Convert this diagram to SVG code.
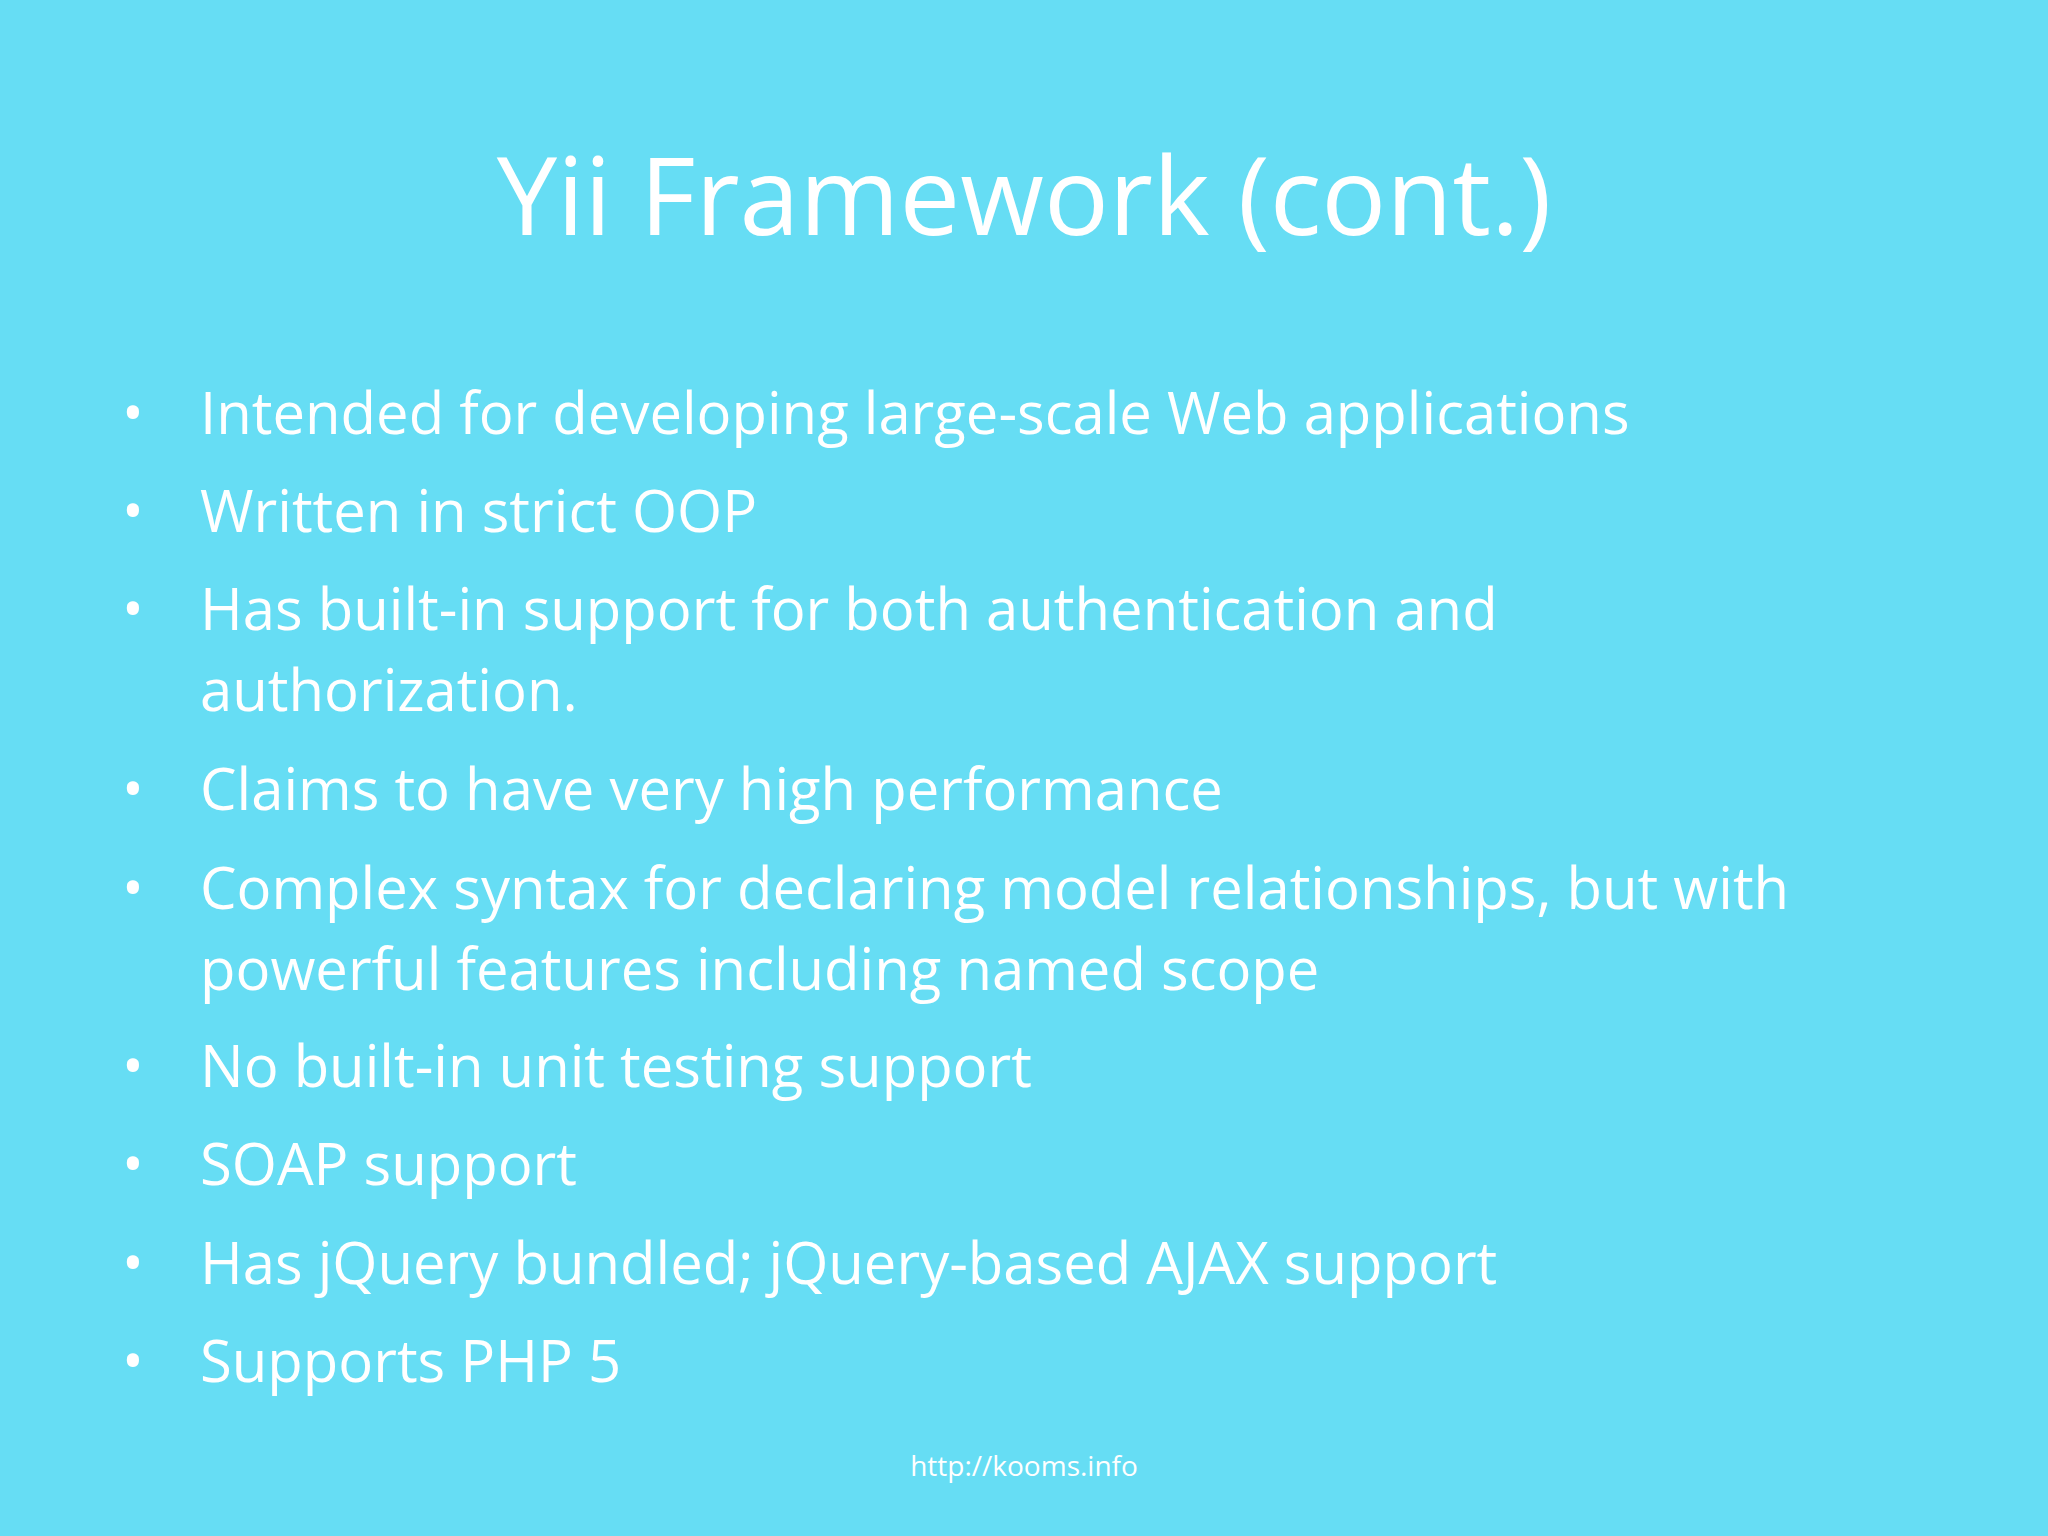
<svg xmlns="http://www.w3.org/2000/svg" width="2048" height="1536" viewBox="0 0 2048 1536">
<style>
.t{font-family:"Open Sans","Liberation Sans",sans-serif;fill:#ffffff}
.b{font-size:58px}
</style>
<rect width="2048" height="1536" fill="#66DDF4"/>
<g id="title"><text class="t" x="1024" y="235" font-size="108" text-anchor="middle">Yii Framework (cont.)</text></g>
<g id="bullets" class="t b">
<text x="122" y="434">•</text><text x="200" y="434">Intended for developing large-scale Web applications</text>
<text x="122" y="532">•</text><text x="200" y="532">Written in strict OOP</text>
<text x="122" y="630">•</text><text x="200" y="630">Has built-in support for both authentication and</text>
<text x="200" y="711">authorization.</text>
<text x="122" y="810">•</text><text x="200" y="810">Claims to have very high performance</text>
<text x="122" y="909">•</text><text x="200" y="909">Complex syntax for declaring model relationships, but with</text>
<text x="200" y="990">powerful features including named scope</text>
<text x="122" y="1087">•</text><text x="200" y="1087">No built-in unit testing support</text>
<text x="122" y="1185">•</text><text x="200" y="1185">SOAP support</text>
<text x="122" y="1284">•</text><text x="200" y="1284">Has jQuery bundled; jQuery-based AJAX support</text>
<text x="122" y="1382">•</text><text x="200" y="1382">Supports PHP 5</text>
</g>
<g id="footer"><text class="t" x="1024" y="1476" font-size="28" text-anchor="middle">http://kooms.info</text></g>
</svg>
